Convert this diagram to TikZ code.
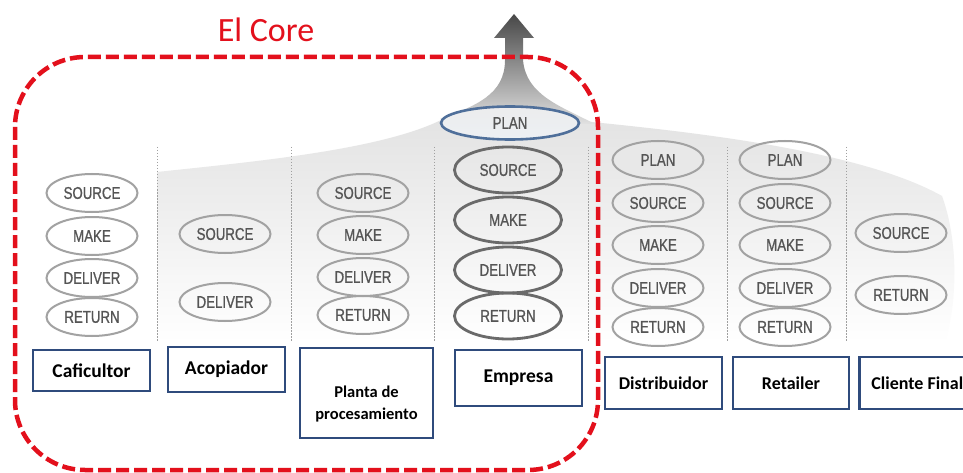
\documentclass[tikz,border=0pt]{standalone}
\usepackage{fontspec}
\setmainfont{Carlito}
\newfontfamily\ellfont[FakeStretch=0.78,FakeBold=0.9]{Liberation Sans}
\usetikzlibrary{shapes.geometric}

\definecolor{coreRed}{HTML}{E3101C}
\definecolor{ellLine}{HTML}{A2A2A2}
\definecolor{ellText}{HTML}{555555}
\definecolor{empLine}{HTML}{6A6A6A}
\definecolor{planLine}{HTML}{4F6F9A}
\definecolor{planFill}{HTML}{E1E6EC}
\definecolor{boxLine}{HTML}{2F4B7C}
\definecolor{sepLine}{HTML}{A0A0A0}

\tikzset{
  proc/.style={ellipse, draw=ellLine, line width=2pt, minimum width=91pt,
    minimum height=38pt, inner sep=0pt, text=ellText,
    font=\ellfont\fontsize{17}{17}\selectfont},
  empproc/.style={proc, draw=empLine, line width=2.8pt, minimum width=107pt,
    minimum height=46pt},
  actor/.style={draw=boxLine, line width=2.6pt, fill=white, inner sep=0pt,
    font=\bfseries\fontsize{19.5}{19.5}\selectfont, text=black},
  actorsm/.style={actor, font=\bfseries\fontsize{18}{18}\selectfont},
  sep/.style={draw=sepLine, line width=1pt, dash pattern=on 1.5pt off 1.5pt},
  corefrontier/.style={draw=coreRed, line width=4.5pt, rounded corners=70pt,
    dash pattern=on 13pt off 5pt},
}

\begin{document}
\begin{tikzpicture}[x=1pt, y=-1pt]
\clip (0,0) rectangle (963,473);
\fill[white] (0,0) rectangle (963,473);

% light backdrop rising towards the company
\path[top color=black!11, bottom color=white]
  (157,172) .. controls (250,162) and (385,150) .. (445,118)
  -- (592,122) .. controls (690,132) and (860,150) .. (942,196)
  .. controls (958,240) and (958,300) .. (945,342)
  -- (157,342) -- cycle;

% upward funnel arrow
\path[top color=black!72, bottom color=black!12]
  (514,14) -- (534,38) -- (523,38) -- (523,60)
  .. controls (526,95) and (560,106) .. (595,124)
  -- (440,119) .. controls (475,106) and (505,95) .. (505,60)
  -- (505,38) -- (494,38) -- cycle;

% column separators
\foreach \sx in {157,291,434,588,727,846}
  \draw[sep] (\sx,147) -- (\sx,342);

% Caficultor
\node[proc] (c1s) at (92,193) {SOURCE};
\node[proc] (c1m) at (92,236) {MAKE};
\node[proc] (c1d) at (92,278) {DELIVER};
\node[proc] (c1r) at (92,317) {RETURN};
% Acopiador
\node[proc] (c2s) at (225,234) {SOURCE};
\node[proc] (c2d) at (225,302) {DELIVER};
% Planta de procesamiento
\node[proc] (c3s) at (363,193) {SOURCE};
\node[proc] (c3m) at (363,235) {MAKE};
\node[proc] (c3d) at (363,277) {DELIVER};
\node[proc] (c3r) at (363,315) {RETURN};
% Empresa
\node[proc, draw=planLine, top color=planFill!70!black!20, bottom color=planFill!60!white,
  line width=2.6pt, minimum width=138pt, minimum height=33pt] (c4p) at (510,123) {PLAN};
\node[empproc] (c4s) at (508,170) {SOURCE};
\node[empproc] (c4m) at (508,220) {MAKE};
\node[empproc] (c4d) at (508,270) {DELIVER};
\node[empproc] (c4r) at (508,316) {RETURN};
% Distribuidor
\node[proc, fill=black!9] (c5p) at (658,160) {PLAN};
\node[proc] (c5s) at (658,203) {SOURCE};
\node[proc] (c5m) at (658,245) {MAKE};
\node[proc] (c5d) at (658,288) {DELIVER};
\node[proc] (c5r) at (658,327) {RETURN};
% Retailer
\node[proc] (c6p) at (785,160) {PLAN};
\node[proc] (c6s) at (785,203) {SOURCE};
\node[proc] (c6m) at (785,245) {MAKE};
\node[proc] (c6d) at (785,288) {DELIVER};
\node[proc] (c6r) at (785,327) {RETURN};
% Cliente Final
\node[proc] (c7s) at (901,233) {SOURCE};
\node[proc] (c7r) at (901,295) {RETURN};

% actor boxes
\node[actor, minimum width=117pt, minimum height=41pt] (caf) at (91.5,370.5) {Caficultor};
\node[actor, minimum width=117pt, minimum height=45pt] (aco) at (226.5,369.5) {Acopiador};
\node[actor, minimum width=133pt, minimum height=90pt] (pla) at (366.5,393) {};
\node[align=center, font=\bfseries\fontsize{16.5}{22}\selectfont] (platxt) at (366.5,404)
  {Planta de\\procesamiento};
\node[actor, minimum width=127pt, minimum height=56pt] (emp) at (518.5,378) {Empresa};
\node[actorsm, minimum width=117pt, minimum height=52pt] (dis) at (663.5,383) {Distribuidor};
\node[actorsm, minimum width=116pt, minimum height=52pt] (ret) at (791,383) {Retailer};
\node[actorsm, minimum width=116pt, minimum height=52pt, anchor=west] (cli) at (858,383) {\hspace*{12pt}Cliente Final\hspace*{12pt}};

% the core boundary
\draw[corefrontier] (15,57) rectangle (598,470);
\node[text=coreRed, font=\fontsize{34}{34}\selectfont] (coretitle) at (266,30) {El Core};
\end{tikzpicture}
\end{document}
